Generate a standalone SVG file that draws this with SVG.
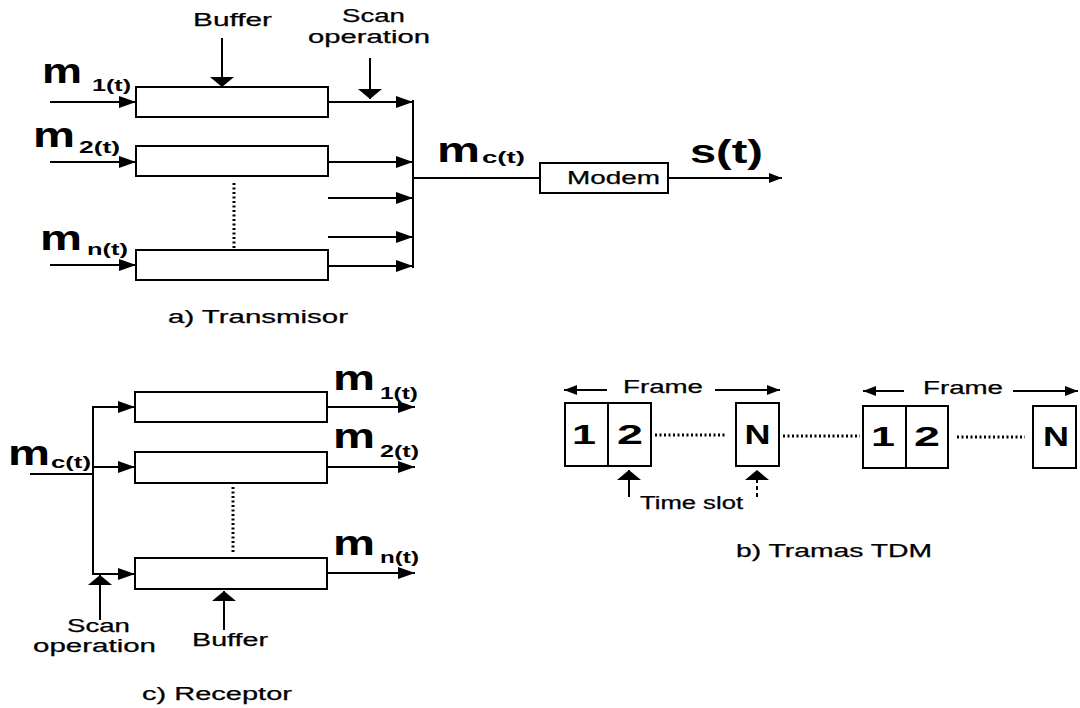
<svg xmlns="http://www.w3.org/2000/svg" width="1080" height="708" viewBox="0 0 1080 708">
<style>
text{font-family:"Liberation Sans",Arial,sans-serif;fill:#000}
.t{font-size:18px;stroke:#000;stroke-width:0.25}
.big{font-size:35px;font-weight:bold}
.sub{font-size:17px;font-weight:bold}
.dig{font-size:28px;font-weight:bold;text-anchor:middle}
.box{fill:#fff;stroke:#000;stroke-width:2}
.ln{stroke:#000;stroke-width:2;fill:none}
.dot{stroke:#000;stroke-width:3;fill:none;stroke-dasharray:2 2.5}
.a{marker-end:url(#arr)}
.f{marker-end:url(#flat)}
.s{marker-end:url(#sm)}
</style>
<defs>
<marker id="arr" markerUnits="userSpaceOnUse" markerWidth="17" markerHeight="12" viewBox="0 0 17 12" refX="17" refY="6" orient="auto"><path d="M0,0 L17,6 L0,12 z" fill="#000"/></marker>
<marker id="flat" markerUnits="userSpaceOnUse" markerWidth="10" markerHeight="24" viewBox="0 0 10 24" refX="10" refY="12" orient="auto"><path d="M0,0 L10,12 L0,24 z" fill="#000"/></marker>
<marker id="sm" markerUnits="userSpaceOnUse" markerWidth="13" markerHeight="10" viewBox="0 0 13 10" refX="13" refY="5" orient="auto"><path d="M0,0 L13,5 L0,10 z" fill="#000"/></marker>
</defs>

<g id="connectors">
<line class="ln a" x1="50" y1="102" x2="136" y2="102"/>
<line class="ln a" x1="50" y1="162" x2="136" y2="162"/>
<line class="ln a" x1="50" y1="265" x2="136" y2="265"/>
<line class="ln a" x1="328" y1="102" x2="413" y2="102"/>
<line class="ln a" x1="328" y1="162" x2="413" y2="162"/>
<line class="ln a" x1="328" y1="198" x2="413" y2="198"/>
<line class="ln a" x1="328" y1="237" x2="413" y2="237"/>
<line class="ln a" x1="328" y1="266" x2="413" y2="266"/>
<line class="ln" x1="413" y1="100" x2="413" y2="268"/>
<line class="ln" x1="413" y1="178" x2="540" y2="178"/>
<line class="ln s" x1="668" y1="178" x2="782" y2="178"/>
<line class="ln f" x1="222" y1="38" x2="222" y2="87"/>
<line class="ln f" x1="370" y1="58" x2="370" y2="99"/>
<line class="dot" x1="234" y1="183" x2="234" y2="248"/>
<line class="ln" x1="30" y1="474" x2="93" y2="474"/>
<line class="ln" x1="93" y1="406" x2="93" y2="575"/>
<line class="ln a" x1="93" y1="407" x2="135" y2="407"/>
<line class="ln a" x1="93" y1="467" x2="135" y2="467"/>
<line class="ln a" x1="93" y1="574" x2="135" y2="574"/>
<line class="ln a" x1="327" y1="407" x2="415" y2="407"/>
<line class="ln a" x1="327" y1="467" x2="415" y2="467"/>
<line class="ln a" x1="327" y1="573" x2="415" y2="573"/>
<line class="dot" x1="233" y1="487" x2="233" y2="553"/>
<line class="ln f" x1="100" y1="620" x2="100" y2="575"/>
<line class="ln f" x1="224" y1="630" x2="224" y2="591"/>
<line class="ln s" x1="607" y1="390" x2="564" y2="390"/>
<line class="ln s" x1="715" y1="390" x2="780" y2="390"/>
<line class="ln s" x1="904" y1="391" x2="863" y2="391"/>
<line class="ln s" x1="1013" y1="391" x2="1078" y2="391"/>
<line class="dot" x1="655" y1="435" x2="727" y2="435"/>
<line class="dot" x1="783" y1="436" x2="860" y2="436"/>
<line class="dot" x1="957" y1="437" x2="1025" y2="437"/>
<line class="ln f" x1="629" y1="497" x2="629" y2="470"/>
<line class="ln f" x1="757" y1="497" x2="757" y2="470" stroke-dasharray="4 3"/>
</g>

<g id="tx-buffer1"><rect class="box" x="136" y="87" width="192" height="30"/></g>
<g id="tx-buffer2"><rect class="box" x="136" y="146" width="192" height="30"/></g>
<g id="tx-buffern"><rect class="box" x="136" y="250" width="192" height="30"/></g>
<g id="modem"><rect class="box" x="540" y="163" width="128" height="30"/>
<text class="t" x="567" y="184" font-size="17" textLength="93" lengthAdjust="spacingAndGlyphs">Modem</text></g>

<g id="rx-buffer1"><rect class="box" x="135" y="392" width="192" height="30"/></g>
<g id="rx-buffer2"><rect class="box" x="135" y="452" width="192" height="31"/></g>
<g id="rx-buffern"><rect class="box" x="135" y="558" width="192" height="31"/></g>

<g id="frame1">
<rect class="box" x="565" y="403" width="43" height="63"/><text class="dig" x="584" y="444" textLength="24" lengthAdjust="spacingAndGlyphs">1</text>
<rect class="box" x="608" y="403" width="43" height="63"/><text class="dig" x="630" y="444" textLength="26" lengthAdjust="spacingAndGlyphs">2</text>
<rect class="box" x="736" y="403" width="43" height="63"/><text class="dig" x="757.5" y="444" textLength="26" lengthAdjust="spacingAndGlyphs">N</text>
</g>
<g id="frame2">
<rect class="box" x="863" y="406" width="43" height="62"/><text class="dig" x="883" y="446" textLength="24" lengthAdjust="spacingAndGlyphs">1</text>
<rect class="box" x="906" y="406" width="42" height="62"/><text class="dig" x="927" y="446" textLength="26" lengthAdjust="spacingAndGlyphs">2</text>
<rect class="box" x="1033" y="406" width="43" height="62"/><text class="dig" x="1056" y="446" textLength="26" lengthAdjust="spacingAndGlyphs">N</text>
</g>

<g id="labels">
<text class="t" x="193" y="26" textLength="79" lengthAdjust="spacingAndGlyphs">Buffer</text>
<text class="t" x="342" y="22" textLength="63" lengthAdjust="spacingAndGlyphs">Scan</text>
<text class="t" x="308" y="43" textLength="122" lengthAdjust="spacingAndGlyphs">operation</text>
<text class="big" x="42" y="83" textLength="40" lengthAdjust="spacingAndGlyphs">m</text>
<text class="sub" x="92" y="91" textLength="39" lengthAdjust="spacingAndGlyphs">1(t)</text>
<text class="big" x="33" y="147" textLength="42" lengthAdjust="spacingAndGlyphs">m</text>
<text class="sub" x="79" y="153" textLength="41" lengthAdjust="spacingAndGlyphs">2(t)</text>
<text class="big" x="40" y="250" textLength="42" lengthAdjust="spacingAndGlyphs">m</text>
<text class="sub" x="87" y="255" textLength="41" lengthAdjust="spacingAndGlyphs">n(t)</text>
<text class="t" x="168" y="323" textLength="180" lengthAdjust="spacingAndGlyphs">a) Transmisor</text>
<text class="big" x="437" y="162" textLength="43" lengthAdjust="spacingAndGlyphs">m</text>
<text class="sub" x="482" y="163" font-size="15" textLength="43" lengthAdjust="spacingAndGlyphs">c(t)</text>
<text x="690" y="163" font-size="34" font-weight="bold" textLength="73" lengthAdjust="spacingAndGlyphs">s(t)</text>
<text class="big" x="8" y="465" textLength="42" lengthAdjust="spacingAndGlyphs">m</text>
<text class="sub" x="51" y="468" textLength="40" lengthAdjust="spacingAndGlyphs">c(t)</text>
<text class="big" x="333" y="390" textLength="42" lengthAdjust="spacingAndGlyphs">m</text>
<text class="sub" x="380" y="399" textLength="38" lengthAdjust="spacingAndGlyphs">1(t)</text>
<text class="big" x="333" y="448" textLength="42" lengthAdjust="spacingAndGlyphs">m</text>
<text class="sub" x="380" y="457" textLength="39" lengthAdjust="spacingAndGlyphs">2(t)</text>
<text class="big" x="333" y="555" textLength="42" lengthAdjust="spacingAndGlyphs">m</text>
<text class="sub" x="380" y="563" textLength="39" lengthAdjust="spacingAndGlyphs">n(t)</text>
<text class="t" x="67" y="632" textLength="63" lengthAdjust="spacingAndGlyphs">Scan</text>
<text class="t" x="33" y="652" textLength="123" lengthAdjust="spacingAndGlyphs">operation</text>
<text class="t" x="192" y="646" textLength="76" lengthAdjust="spacingAndGlyphs">Buffer</text>
<text class="t" x="142" y="700" font-size="19" textLength="150" lengthAdjust="spacingAndGlyphs">c) Receptor</text>
<text class="t" x="623" y="393" textLength="80" lengthAdjust="spacingAndGlyphs">Frame</text>
<text class="t" x="923" y="394" textLength="80" lengthAdjust="spacingAndGlyphs">Frame</text>
<text class="t" x="640" y="509" textLength="103" lengthAdjust="spacingAndGlyphs">Time slot</text>
<text class="t" x="736" y="557" textLength="196" lengthAdjust="spacingAndGlyphs">b) Tramas TDM</text>
</g>
</svg>
